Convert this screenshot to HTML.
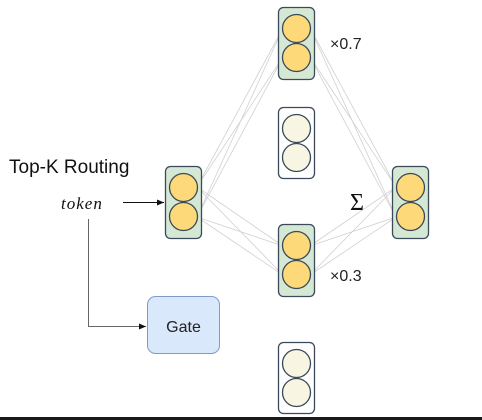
<!DOCTYPE html>
<html><head><meta charset="utf-8"><style>
html,body{margin:0;padding:0;background:#fff;}
svg{display:block;}
</style></head><body>
<svg width="482" height="420" viewBox="0 0 482 420" xmlns="http://www.w3.org/2000/svg">
<defs>
<marker id="ah" markerWidth="8" markerHeight="8" refX="7" refY="4" orient="auto" markerUnits="userSpaceOnUse">
<path d="M0,1 L7,4 L0,7 Z" fill="#111"/>
</marker>
</defs>
<g stroke="#d0d0d0" stroke-width="0.8" fill="none">
<line x1="197" y1="187" x2="283" y2="28"/><line x1="197" y1="187" x2="283" y2="57"/>
<line x1="197" y1="217" x2="283" y2="28"/><line x1="197" y1="217" x2="283" y2="57"/>
<line x1="197" y1="187" x2="283" y2="246"/><line x1="197" y1="187" x2="283" y2="275"/>
<line x1="197" y1="217" x2="283" y2="246"/><line x1="197" y1="217" x2="283" y2="275"/>
<line x1="310" y1="28" x2="396" y2="187"/><line x1="310" y1="28" x2="396" y2="217"/>
<line x1="310" y1="57" x2="396" y2="187"/><line x1="310" y1="57" x2="396" y2="217"/>
<line x1="310" y1="246" x2="396" y2="187"/><line x1="310" y1="246" x2="396" y2="217"/>
<line x1="310" y1="275" x2="396" y2="187"/><line x1="310" y1="275" x2="396" y2="217"/>
</g>
<g stroke="#3a4a5a" stroke-width="1.3">
<rect x="165.5" y="166.5" width="36" height="72" rx="5" fill="#d5e8d4"/>
<circle cx="183.5" cy="187.5" r="14" fill="#fdd97a"/><circle cx="183.5" cy="216.5" r="14" fill="#fdd97a"/>
<rect x="278.5" y="7.5" width="36" height="72" rx="5" fill="#d5e8d4"/>
<circle cx="296.5" cy="28.5" r="14" fill="#fdd97a"/><circle cx="296.5" cy="57.5" r="14" fill="#fdd97a"/>
<rect x="278.5" y="107.5" width="36" height="71" rx="5" fill="#fff"/>
<circle cx="296.5" cy="128.5" r="14" fill="#f8f5e2"/><circle cx="296.5" cy="157.5" r="14" fill="#f8f5e2"/>
<rect x="278.5" y="224.5" width="36" height="72" rx="5" fill="#d5e8d4"/>
<circle cx="296.5" cy="245.5" r="14" fill="#fdd97a"/><circle cx="296.5" cy="274.5" r="14" fill="#fdd97a"/>
<rect x="278.5" y="342.5" width="36" height="71" rx="5" fill="#fff"/>
<circle cx="296.5" cy="363.5" r="14" fill="#f8f5e2"/><circle cx="296.5" cy="392.5" r="14" fill="#f8f5e2"/>
<rect x="392.5" y="166.5" width="36" height="72" rx="5" fill="#d5e8d4"/>
<circle cx="410.5" cy="187.5" r="14" fill="#fdd97a"/><circle cx="410.5" cy="216.5" r="14" fill="#fdd97a"/>
</g>
<rect x="147.5" y="296.5" width="72" height="57" rx="8" fill="#dae8fc" stroke="#7c9cc9" stroke-width="1"/>
<text x="183.5" y="332" font-family="Liberation Sans, sans-serif" font-size="16" fill="#222" text-anchor="middle">Gate</text>
<line x1="123" y1="202.5" x2="164" y2="202.5" stroke="#111" stroke-width="1" marker-end="url(#ah)"/>
<polyline points="88.5,219 88.5,326.5 146,326.5" fill="none" stroke="#666" stroke-width="1" marker-end="url(#ah)"/>
<text x="9" y="173" font-family="Liberation Sans, sans-serif" font-size="19" fill="#111">Top-K Routing</text>
<text x="61" y="209" font-family="Liberation Serif, serif" font-style="italic" font-size="17" fill="#111" letter-spacing="1">token</text>
<text x="330" y="49" font-family="Liberation Sans, sans-serif" font-size="16" fill="#222">×0.7</text>
<text x="330" y="281" font-family="Liberation Sans, sans-serif" font-size="16" fill="#222">×0.3</text>
<text x="350" y="210" font-family="Liberation Serif, serif" font-size="24" fill="#111">Σ</text>
<rect x="0" y="417" width="482" height="3" fill="#1a1a1a"/>
</svg>
</body></html>
